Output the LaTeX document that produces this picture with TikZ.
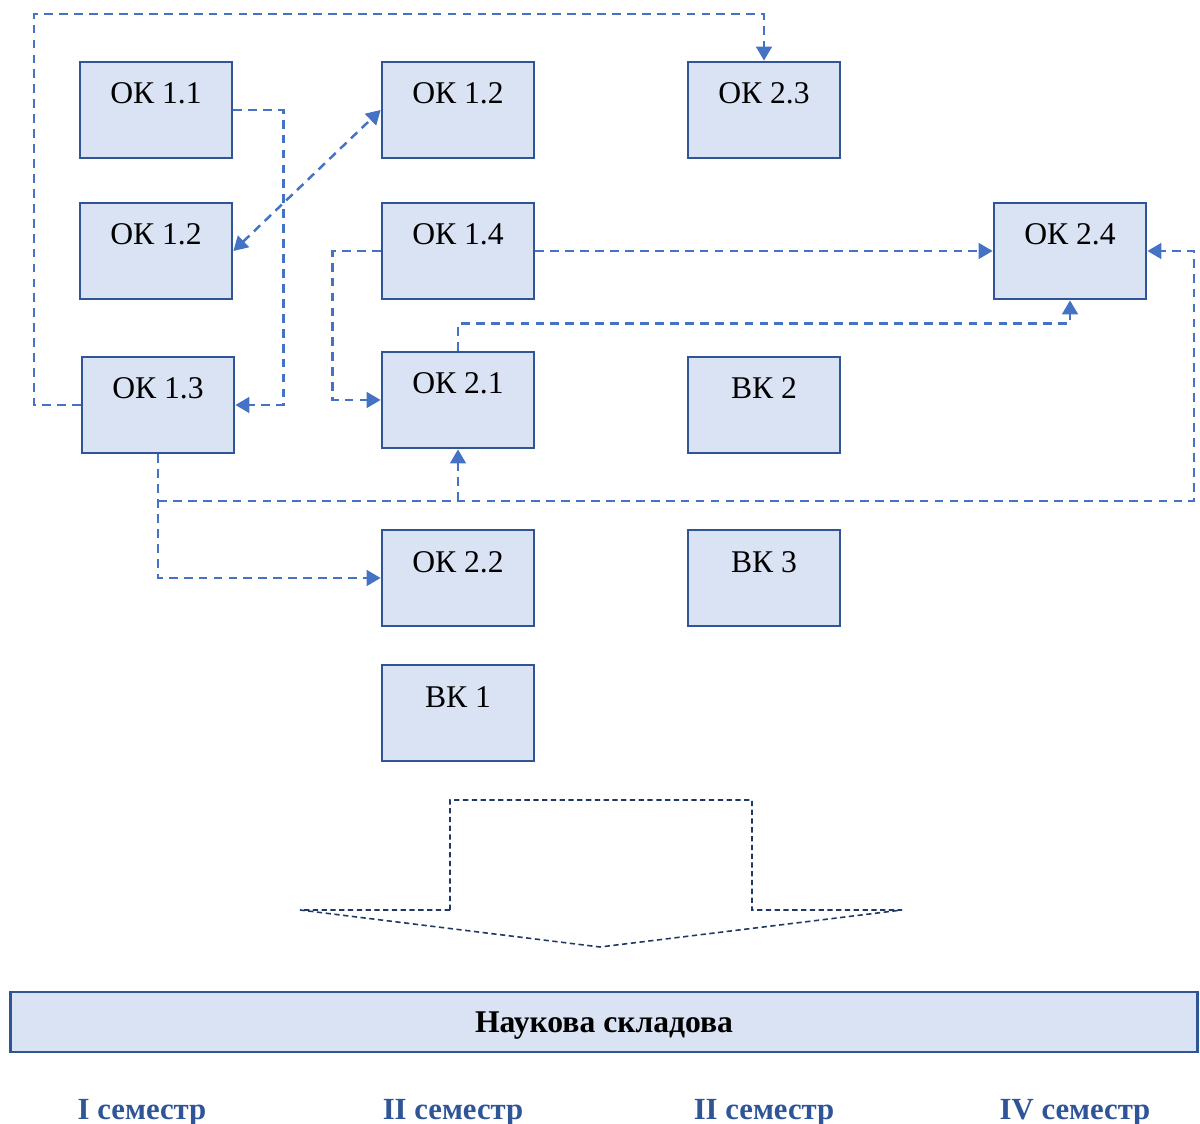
\documentclass[tikz,border=0pt]{standalone}
\usepackage{fontspec}
\setmainfont{Liberation Serif}
\usepackage{xcolor}
\usetikzlibrary{arrows.meta,positioning,calc}

\definecolor{boxfill}{HTML}{DAE3F3}
\definecolor{boxline}{HTML}{2F5597}
\definecolor{linkblue}{HTML}{4472C4}
\definecolor{arrownavy}{HTML}{203864}

\tikzset{
  course/.style={draw=boxline, line width=1.6pt, fill=boxfill, minimum width=3.04cm,
    inner sep=0pt, text height=0.84cm, text depth=1.08cm, font=\fontsize{18}{20}\selectfont},
  link/.style={linkblue, line width=1.4pt, dash pattern=on 5pt off 3.5pt},
  sem/.style={font=\fontsize{17.5}{20}\selectfont\bfseries, text=boxline, anchor=base}
}

\begin{document}
\begin{tikzpicture}[x=0.02cm, y=-0.02cm, >={Triangle[width=9pt,length=8pt]}]
    \useasboundingbox (0,0) rectangle (1200,1124);

    % First column
    \node[course] (ok11) at (156,110) {ОК 1.1};
    \node[course] (ok12a) at (156,251) {ОК 1.2};
    \node[course] (ok13) at (158,405) {ОК 1.3};

    % Second column
    \node[course] (ok12b) at (458,110) {ОК 1.2};
    \node[course] (ok14) at (458,251) {ОК 1.4};
    \node[course] (ok21) at (458,400) {ОК 2.1};
    \node[course] (ok22) at (458,578) {ОК 2.2};
    \node[course] (bk1) at (458,713) {ВК 1};

    % Third column
    \node[course] (ok23) at (764,110) {ОК 2.3};
    \node[course] (bk2) at (764,405) {ВК 2};
    \node[course] (bk3) at (764,578) {ВК 3};

    % Fourth column
    \node[course] (ok24) at (1070,251) {ОК 2.4};

    % Connectors
    \draw[link,->] (ok13.west) -| (34,14) -| (ok23.north);
    \draw[link,->] (ok11.east) -- ++(50,0) |- (ok13.east);
    \draw[link,<->] (ok12a.east) -- (ok12b.west);
    \draw[link,->] (ok14.east) -- (ok24.west);
    \draw[link,->] (ok14.west) -- ++(-48,0) |- (ok21.west);
    \draw[link,->] (ok21.north) -- ++(0,-27) -| (ok24.south);
    \draw[link,->] (ok13.south) |- (ok22.west);
    \coordinate (split) at (ok13.south |- 0,501);
    \draw[link,->] (split) -- (1194,501) |- (ok24.east);
    \draw[link,->] (ok21.south |- split) -- (ok21.south);

    % Big arrow
    \draw[arrownavy, line width=0.9pt, dash pattern=on 3pt off 2pt]
        (450,910) -- (450,800) -- (752,800) -- (752,910) -- (902,910)
        -- (600,947) -- (300,910) -- cycle;

    % Research bar
    \node[draw=boxline, line width=1.6pt, fill=boxfill, minimum width=23.76cm,
        minimum height=1.2cm, text depth=0pt, font=\fontsize{18}{20}\selectfont\bfseries] (science) at (604,1022) {Наукова складова};

    % Semesters
    \node[sem] (sem1) at (142,1119) {I семестр};
    \node[sem] (sem2) at (453,1119) {II семестр};
    \node[sem] (sem3) at (764,1119) {II семестр};
    \node[sem] (sem4) at (1075,1119) {IV семестр};
\end{tikzpicture}
\end{document}
